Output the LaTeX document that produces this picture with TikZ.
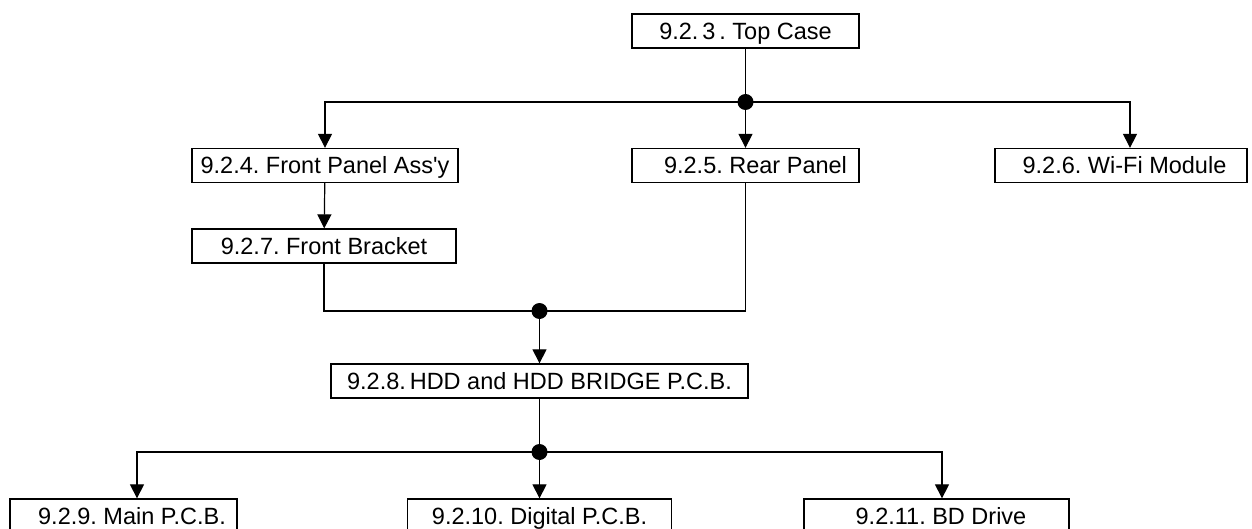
\documentclass[tikz,border=0pt]{standalone}
\usepackage{fontspec}
\setmainfont{Liberation Sans}
\usetikzlibrary{arrows.meta, calc}
\frenchspacing

\tikzset{
  part/.style={draw, line width=1.3pt, minimum height=34pt, inner sep=0pt,
    text height=19pt, text depth=2pt, font=\fontsize{23.5}{26}\selectfont},
  link/.style={line width=1.2pt},
  feed/.style={link, -{Triangle[length=14pt, width=14pt]}},
}

\begin{document}
\begin{tikzpicture}[x=1pt, y=-1pt]
  \useasboundingbox (0,0) rectangle (1252,529);

  % Boxes
  \node[part, minimum width=227pt] (top) at (745.5,31) {9.2.\,3\,. Top Case};
  \node[part, minimum width=266pt] (front) at (325,165.5) {9.2.4. Front Panel Ass\textquotesingle y};
  \node[part, minimum width=227pt] (rear) at (745.5,165.5) {\hspace{20pt}9.2.5. Rear Panel};
  \node[part, minimum width=252pt] (wifi) at (1121,165.5) {\hspace{7pt}9.2.6. Wi-Fi Module};
  \node[part, minimum width=264pt] (bracket) at (324,246) {9.2.7. Front Bracket};
  \node[part, minimum width=417pt] (hdd) at (539.5,381) {9.2.8.\,HDD and HDD BRIDGE P.C.B.};
  \node[part, minimum width=227pt] (main) at (123.5,516) {\hspace{17pt}9.2.9. Main P.C.B.};
  \node[part, minimum width=264pt] (digital) at (539.5,516) {9.2.10. Digital P.C.B.};
  \node[part, minimum width=265pt] (bd) at (936.5,516) {\hspace{9pt}9.2.11. BD Drive};

  % Junctions
  \coordinate (j1) at (745.5,102);
  \coordinate (j2) at (539.5,311);
  \coordinate (j3) at (539.5,452);

  % Top case to the panels
  \draw[link] (top) -- (j1);
  \draw[feed] (j1) -| (front);
  \draw[feed] (j1) -- (rear);
  \draw[feed] (j1) -| ($(wifi.north)+(9,0)$);

  % Front panel to bracket, then both sides into HDD
  \draw[feed] (front) -- (bracket);
  \draw[link] (bracket.south) |- (j2) -| (rear.south);
  \draw[feed] (j2) -- (hdd);

  % HDD to the boards
  \draw[link] (hdd) -- (j3);
  \draw[feed] (j3) -| ($(main.north)+(13.5,0)$);
  \draw[feed] (j3) -- (digital);
  \draw[feed] (j3) -| ($(bd.north)+(5.5,0)$);

  % Dots
  \foreach \j in {j1, j2, j3}
    \fill (\j) circle (8pt);
\end{tikzpicture}
\end{document}
